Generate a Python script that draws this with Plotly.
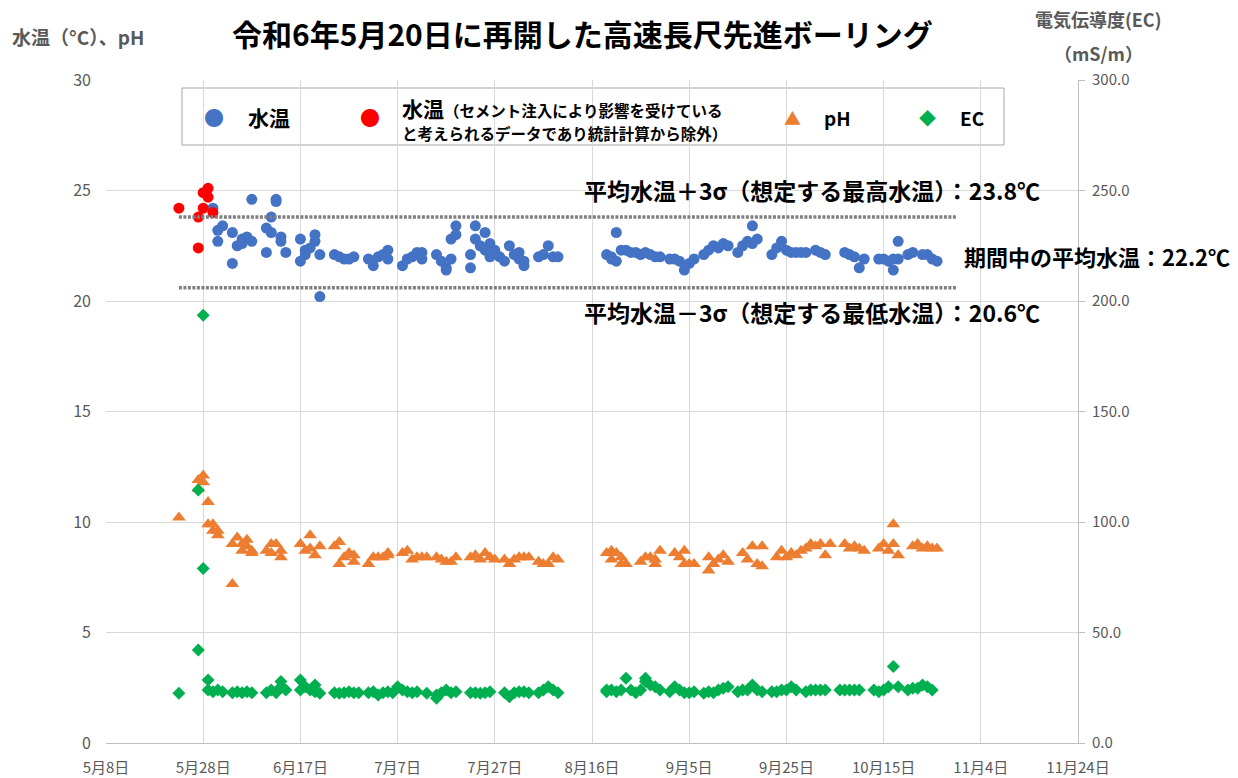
import plotly.graph_objects as go

YEAR = "2024-"

# 水温（セメント注入の影響を受けたデータ：統計計算から除外）
excl_dates = ["05-23", "05-27", "05-27", "05-28", "05-28", "05-29", "05-29", "05-30"]
excl_vals = [24.2, 23.8, 22.4, 24.9, 24.2, 25.1, 24.7, 24.0]

# 水温
temp_dates = [
    "05-30", "05-31", "05-31", "06-01", "06-03", "06-03", "06-04", "06-05", "06-05", "06-06", "06-07", "06-07",
    "06-10", "06-10", "06-11", "06-11", "06-12", "06-12", "06-13", "06-13", "06-14",
    "06-17", "06-17", "06-18", "06-18", "06-19", "06-20", "06-20", "06-21", "06-21",
    "06-24", "06-25", "06-26", "06-27", "06-28",
    "07-01", "07-02", "07-03", "07-04", "07-05", "07-05",
    "07-08", "07-09", "07-10", "07-11", "07-12", "07-12",
    "07-15", "07-16", "07-17", "07-17", "07-18", "07-18", "07-19", "07-19",
    "07-22", "07-22", "07-23", "07-23", "07-24", "07-25", "07-25", "07-26", "07-26", "07-27", "07-28",
    "07-29", "07-30", "07-31", "08-01", "08-01", "08-02", "08-02",
    "08-05", "08-06", "08-07", "08-08", "08-09",
    "08-19", "08-20", "08-20", "08-21", "08-21", "08-22", "08-23", "08-24", "08-25",
    "08-26", "08-27", "08-28", "08-29", "08-30",
    "09-01", "09-02", "09-03", "09-04", "09-05", "09-06",
    "09-08", "09-09", "09-10", "09-11", "09-12", "09-13",
    "09-15", "09-16", "09-17", "09-18", "09-18", "09-19",
    "09-22", "09-23", "09-24", "09-25", "09-26", "09-27", "09-28", "09-29",
    "10-01", "10-02", "10-03",
    "10-07", "10-08", "10-09", "10-10", "10-11",
    "10-14", "10-15", "10-16", "10-17", "10-17", "10-18", "10-18",
    "10-20", "10-21", "10-23", "10-24", "10-25", "10-26",
]
temp_vals = [
    24.2, 22.7, 23.2, 23.4, 23.1, 21.7, 22.5, 22.6, 22.8, 22.9, 22.7, 24.6,
    23.3, 22.2, 23.1, 23.8, 24.6, 24.5, 22.9, 22.7, 22.2,
    22.8, 21.8, 22.3, 22.1, 22.4, 23.0, 22.7, 22.1, 20.2,
    22.1, 22.0, 21.9, 21.9, 22.0,
    21.9, 21.6, 22.0, 22.1, 22.3, 21.9,
    21.6, 21.9, 22.0, 22.2, 22.2, 21.9,
    22.1, 21.8, 21.5, 21.4, 21.9, 22.8, 23.0, 23.4,
    22.1, 21.5, 23.4, 22.8, 22.5, 23.1, 22.3, 22.6, 22.0, 22.3, 22.0,
    21.8, 22.5, 22.1, 22.2, 21.9, 21.8, 21.6,
    22.0, 22.1, 22.5, 22.0, 22.0,
    22.1, 22.0, 21.9, 21.8, 23.1, 22.3, 22.3, 22.2, 22.2,
    22.1, 22.2, 22.1, 22.0, 22.0,
    21.9, 21.9, 21.8, 21.4, 21.7, 21.9,
    22.1, 22.3, 22.5, 22.4, 22.6, 22.5,
    22.2, 22.5, 22.7, 23.4, 22.6, 22.8,
    22.1, 22.4, 22.7, 22.3, 22.2, 22.2, 22.2, 22.2,
    22.3, 22.2, 22.1,
    22.2, 22.1, 22.0, 21.5, 21.9,
    21.9, 21.9, 21.8, 21.4, 21.9, 22.7, 21.9,
    22.1, 22.2, 22.1, 22.1, 21.9, 21.8,
]

# pH
ph_dates = [
    "05-23", "05-27", "05-27", "05-28", "05-28", "05-29", "05-29", "05-30", "05-30", "05-31", "05-31",
    "06-03", "06-03", "06-04", "06-05", "06-05", "06-06", "06-06", "06-07", "06-07",
    "06-10", "06-11", "06-11", "06-12", "06-13", "06-13",
    "06-17", "06-18", "06-19", "06-19", "06-20", "06-21",
    "06-24", "06-25", "06-25", "06-26", "06-27", "06-28", "06-28",
    "07-01", "07-02", "07-03", "07-04", "07-05", "07-05",
    "07-08", "07-09", "07-10", "07-11", "07-12", "07-13",
    "07-15", "07-16", "07-17", "07-18", "07-19",
    "07-22", "07-23", "07-24", "07-25", "07-26", "07-27",
    "07-29", "07-30", "07-31", "08-01", "08-02", "08-03",
    "08-05", "08-06", "08-07", "08-08", "08-09",
    "08-19", "08-20", "08-20", "08-21", "08-22", "08-22", "08-23",
    "08-26", "08-27", "08-28", "08-29", "08-29", "08-30",
    "09-02", "09-03", "09-04", "09-04", "09-05", "09-06",
    "09-09", "09-09", "09-10", "09-11", "09-12", "09-13",
    "09-16", "09-17", "09-18", "09-19", "09-20", "09-20",
    "09-23", "09-24", "09-25", "09-26", "09-27", "09-28",
    "09-29", "09-30", "10-01", "10-02", "10-03", "10-04",
    "10-07", "10-08", "10-09", "10-10", "10-11",
    "10-14", "10-15", "10-16", "10-17", "10-17", "10-18",
    "10-21", "10-22", "10-23", "10-24", "10-25", "10-26",
]
ph_vals = [
    10.2, 11.9, 11.5, 12.1, 11.8, 10.9, 9.9, 9.9, 9.6, 9.4, 9.6,
    7.2, 9.0, 9.3, 9.0, 8.7, 9.2, 8.9, 8.7, 8.6,
    8.7, 9.0, 8.6, 9.0, 8.7, 8.4,
    9.0, 8.7, 9.4, 8.8, 8.5, 8.9,
    8.9, 8.1, 9.1, 8.4, 8.6, 8.2, 8.5,
    8.1, 8.4, 8.4, 8.4, 8.6, 8.5,
    8.6, 8.7, 8.3, 8.4, 8.4, 8.4,
    8.4, 8.3, 8.2, 8.2, 8.4,
    8.4, 8.5, 8.3, 8.6, 8.4, 8.3,
    8.3, 8.1, 8.3, 8.4, 8.4, 8.4,
    8.2, 8.1, 8.1, 8.4, 8.3,
    8.6, 8.7, 8.3, 8.6, 8.4, 8.1, 8.1,
    8.2, 8.4, 8.4, 8.1, 8.3, 8.7,
    8.6, 8.4, 8.7, 8.1, 8.1, 8.1,
    8.4, 7.8, 8.1, 8.3, 8.5, 8.2,
    8.6, 8.3, 8.9, 8.1, 8.0, 8.9,
    8.4, 8.7, 8.4, 8.6, 8.5, 8.7,
    8.8, 9.0, 8.9, 9.0, 8.5, 9.0,
    9.0, 8.8, 8.9, 8.8, 8.7,
    8.8, 9.0, 8.7, 9.9, 9.0, 8.5,
    8.9, 9.0, 8.8, 8.9, 8.8, 8.8,
]

# 電気伝導度 EC (mS/m)
ec_dates = [
    "05-23", "05-27", "05-27", "05-28", "05-28", "05-29", "05-29", "05-30", "05-31", "06-01",
    "06-03", "06-04", "06-05", "06-06", "06-07",
    "06-10", "06-11", "06-12", "06-13", "06-13", "06-14",
    "06-17", "06-17", "06-18", "06-19", "06-20", "06-20", "06-21",
    "06-24", "06-25", "06-26", "06-27", "06-28", "06-29",
    "07-01", "07-02", "07-03", "07-04", "07-05", "07-06",
    "07-07", "07-08", "07-09", "07-10", "07-11", "07-13",
    "07-15", "07-15", "07-16", "07-17", "07-18", "07-19",
    "07-22", "07-23", "07-24", "07-25", "07-26",
    "07-29", "07-30", "07-31", "08-01", "08-02", "08-03",
    "08-05", "08-06", "08-07", "08-08", "08-09",
    "08-19", "08-19", "08-20", "08-21", "08-22", "08-23", "08-24",
    "08-25", "08-26", "08-27", "08-27", "08-28", "08-29", "08-30",
    "09-01", "09-02", "09-03", "09-04", "09-05", "09-06",
    "09-08", "09-09", "09-10", "09-11", "09-12", "09-13",
    "09-15", "09-16", "09-17", "09-18", "09-19", "09-20",
    "09-22", "09-23", "09-24", "09-25", "09-26", "09-27",
    "09-29", "09-30", "10-01", "10-02", "10-03",
    "10-06", "10-07", "10-08", "10-09", "10-10",
    "10-13", "10-14", "10-15", "10-16", "10-17", "10-18",
    "10-20", "10-21", "10-22", "10-23", "10-24", "10-25",
]
ec_vals = [
    22.5, 114.5, 42.1, 193.5, 79.0, 28.5, 24.0, 23.2, 24.0, 23.2,
    22.7, 23.2, 22.7, 23.2, 22.7,
    22.7, 24.0, 22.7, 27.8, 25.5, 24.0,
    28.5, 24.0, 25.5, 24.0, 26.3, 23.2, 22.5,
    22.7, 22.5, 22.7, 23.2, 22.7, 22.7,
    22.7, 23.2, 21.7, 22.7, 23.2, 22.7,
    25.5, 24.0, 23.2, 22.7, 23.2, 22.5,
    21.7, 20.2, 22.7, 24.0, 22.7, 23.2,
    22.7, 22.7, 22.5, 22.7, 23.2,
    22.7, 20.9, 22.7, 23.2, 23.2, 22.7,
    22.7, 24.0, 25.5, 24.0, 22.7,
    24.0, 23.2, 24.0, 23.2, 24.0, 29.3, 24.0,
    22.7, 24.0, 29.3, 27.8, 26.3, 25.5, 24.0,
    23.2, 25.5, 24.0, 22.7, 22.7, 23.2,
    22.5, 23.2, 22.7, 24.0, 24.8, 25.5,
    23.2, 24.0, 24.0, 26.3, 24.0, 23.2,
    23.2, 23.2, 24.0, 24.0, 25.5, 24.0,
    23.2, 24.0, 24.0, 24.0, 24.0,
    24.0, 24.0, 24.0, 24.0, 24.0,
    24.0, 23.2, 24.0, 25.5, 34.6, 25.5,
    24.0, 24.8, 24.8, 26.3, 25.5, 24.0,
]

# 統計値（℃）
sigma_span = ["05-23", "10-30"]
temp_upper = 23.8
temp_mean = 22.2
temp_lower = 20.6

x_tick_dates = ["05-08", "05-28", "06-17", "07-07", "07-27", "08-16",
                "09-05", "09-25", "10-15", "11-04", "11-24"]
x_tick_labels = ["5月8日", "5月28日", "6月17日", "7月7日", "7月27日", "8月16日",
                 "9月5日", "9月25日", "10月15日", "11月4日", "11月24日"]
ec_ticks = [0, 50, 100, 150, 200, 250, 300]


def d(lst):
    return [YEAR + s for s in lst]


FONT = "Noto Sans CJK JP"
GRAY = "#595959"
GRID = "#D9D9D9"

fig = go.Figure()

fig.add_trace(go.Scatter(
    x=d(temp_dates), y=temp_vals, mode="markers", name="水温",
    marker=dict(symbol="circle", size=11, color="#4472C4")
))
fig.add_trace(go.Scatter(
    x=d(excl_dates), y=excl_vals, mode="markers", name="水温（除外）",
    marker=dict(symbol="circle", size=11, color="#FF0000")
))
fig.add_trace(go.Scatter(
    x=d(ph_dates), y=ph_vals, mode="markers", name="pH",
    marker=dict(symbol="triangle-up", size=12, color="#ED7D31")
))

# ±3σ lines
for v in [temp_upper, temp_lower]:
    fig.add_trace(go.Scatter(
        x=d(sigma_span), y=[v, v], mode="lines",
        line=dict(color="#7F7F7F", width=3.5, dash="3px,1.5px"),
        hoverinfo="skip"
    ))

fig.add_trace(go.Scatter(
    x=d(ec_dates), y=ec_vals, mode="markers", name="EC", yaxis="y2",
    marker=dict(symbol="diamond", size=10, color="#00B050")
))

x_left, x_right = 106, 1078
y_top, y_bot = 80, 743


def px(x):
    return (x - x_left) / (x_right - x_left)


def py(y):
    return (y_bot - y) / (y_bot - y_top)


ann = []


def text(x, y, s, size, color="black", xanchor="left", bold=True, align="left"):
    ann.append(dict(
        x=px(x), y=py(y), xref="paper", yref="paper", xanchor=xanchor, yanchor="middle",
        text=f"<b>{s}</b>" if bold else s, showarrow=False, align=align,
        font=dict(family=FONT, size=size, color=color)
    ))


text(582, 33, "令和6年5月20日に再開した高速長尺先進ボーリング", 30, xanchor="center")
text(10, 36, "水温（°C）、pH", 19, color=GRAY)
text(1098, 19, "電気伝導度(EC)", 18, color=GRAY, xanchor="center")
text(1098, 53, "（mS/m）", 18, color=GRAY, xanchor="center")

text(812, 190, f"平均水温＋3σ（想定する最高水温）：{temp_upper}℃", 23, xanchor="center")
text(1097, 256, f"期間中の平均水温：{temp_mean}℃", 22, xanchor="center")
text(812, 312, f"平均水温－3σ（想定する最低水温）：{temp_lower}℃", 23, xanchor="center")

# legend
text(214, 117, "<span style='color:#4472C4'>●</span>", 20, xanchor="center", bold=False)
text(246, 117, "水温", 21)
text(370, 117, "<span style='color:#FF0000'>●</span>", 20, xanchor="center", bold=False)
text(400, 118,
     "<span style='font-size:21px'>水温</span>"
     "<span style='font-size:15.5px'>（セメント注入により影響を受けている</span><br>"
     "<span style='font-size:15.5px'>と考えられるデータであり統計計算から除外）</span>", 18)
text(792, 117, "<span style='color:#ED7D31'>▲</span>", 17, xanchor="center", bold=False)
text(822, 117, "pH", 19)
text(927, 117, "<span style='color:#00B050'>◆</span>", 17, xanchor="center", bold=False)
text(958, 117, "EC", 19)

fig.update_layout(
    width=1238,
    height=778,
    margin=dict(l=x_left, r=1238 - x_right, t=y_top, b=778 - y_bot),
    plot_bgcolor="white",
    paper_bgcolor="white",
    showlegend=False,
    font=dict(family=FONT, color=GRAY),
    annotations=ann,
    shapes=[dict(
        type="rect", xref="paper", yref="paper",
        x0=px(182), x1=px(1004), y0=py(145), y1=py(88),
        line=dict(color="#A6A6A6", width=1), fillcolor="white", layer="below"
    )],
    xaxis=dict(
        type="date",
        range=[YEAR + "05-08", YEAR + "11-24"],
        tickvals=d(x_tick_dates),
        ticktext=x_tick_labels,
        showgrid=True, gridcolor=GRID, gridwidth=1,
        showline=True, linecolor="#BFBFBF",
        ticks="", ticklabelstandoff=11,
        tickfont=dict(size=15, color=GRAY),
        zeroline=False, automargin=False,
    ),
    yaxis=dict(
        range=[0, 30], dtick=5,
        showgrid=True, gridcolor=GRID, gridwidth=1,
        zeroline=False, showline=False, ticks="",
        ticklabelstandoff=14, automargin=False,
        tickfont=dict(size=16, color=GRAY),
    ),
    yaxis2=dict(
        overlaying="y", side="right", range=[0, 300],
        tickvals=ec_ticks, tickformat=".1f",
        showgrid=False, zeroline=False,
        showline=True, linecolor="#BFBFBF",
        ticks="outside", ticklen=6, tickcolor="#BFBFBF",
        ticklabelstandoff=4, automargin=False,
        tickfont=dict(size=15, color=GRAY),
    ),
)

fig.write_html(
    "out.html",
    config={"displayModeBar": False},
    post_script="document.body.style.margin='0px';",
)
